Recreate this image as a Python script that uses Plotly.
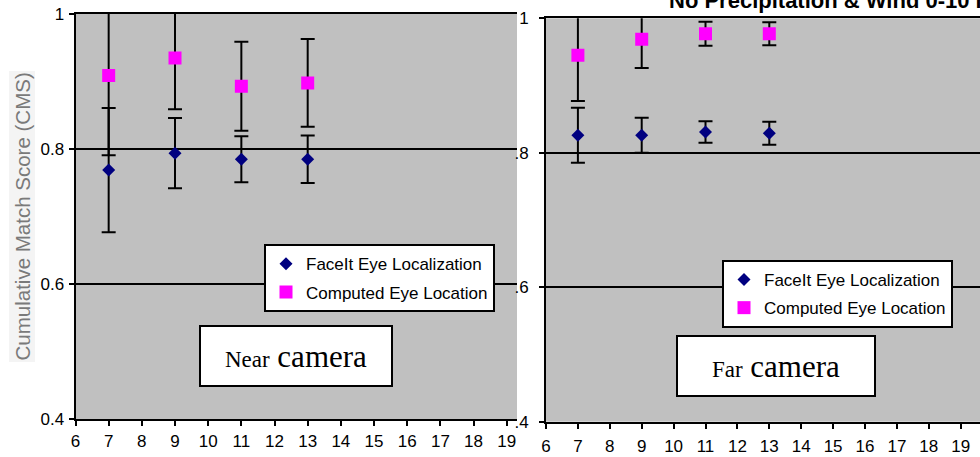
import plotly.graph_objects as go

# ---- data ----
window = [7, 9, 11, 13]
x_ticks = list(range(6, 20))
y_ticks = [0.4, 0.6, 0.8, 1.0]
y_ticktext_left = ["0.4", "0.6", "0.8", "1"]
y_ticktext_right = [".4", ".6", ".8", "1"]

near_faceit = [0.769, 0.794, 0.785, 0.785]
near_faceit_err = [0.092, 0.052, 0.034, 0.035]
near_computed = [0.909, 0.935, 0.893, 0.898]
near_computed_err = [0.118, 0.076, 0.066, 0.065]

far_faceit = [0.826, 0.826, 0.831, 0.829]
far_faceit_err = [0.041, 0.026, 0.016, 0.017]
far_computed = [0.945, 0.969, 0.977, 0.977]
far_computed_err = [0.068, 0.043, 0.018, 0.017]

name_faceit = "FaceIt Eye Localization"
name_computed = "Computed Eye Location"

W, H = 980, 457
NAVY = "#000080"
MAGENTA = "#FF00FF"
SANS = "Liberation Sans, Arial, sans-serif"
SERIF = "Liberation Serif, Times New Roman, serif"


def px_x(p):
    return p / W


def px_y(p):
    return 1 - p / H


fig = go.Figure()


def err(vals):
    return dict(type="data", array=vals, visible=True, color="black",
                thickness=2, width=7)


fig.add_trace(go.Scatter(
    x=window, y=near_faceit, mode="markers", name=name_faceit,
    marker=dict(symbol="diamond", size=10, color=NAVY),
    error_y=err(near_faceit_err), xaxis="x", yaxis="y",
    legend="legend", legendgroup="a"))
fig.add_trace(go.Scatter(
    x=window, y=near_computed, mode="markers", name=name_computed,
    marker=dict(symbol="square", size=13, color=MAGENTA),
    error_y=err(near_computed_err), xaxis="x", yaxis="y",
    legend="legend", legendgroup="b"))
fig.add_trace(go.Scatter(
    x=window, y=far_faceit, mode="markers", name=name_faceit,
    marker=dict(symbol="diamond", size=10, color=NAVY),
    error_y=err(far_faceit_err), xaxis="x2", yaxis="y2",
    legend="legend2", legendgroup="c"))
fig.add_trace(go.Scatter(
    x=window, y=far_computed, mode="markers", name=name_computed,
    marker=dict(symbol="square", size=13, color=MAGENTA),
    error_y=err(far_computed_err), xaxis="x2", yaxis="y2",
    legend="legend2", legendgroup="d"))

axis_common = dict(
    showline=True, linecolor="black", linewidth=2,
    ticks="outside", ticklen=5, tickwidth=2, tickcolor="black",
    tickfont=dict(family=SANS, size=17, color="black"),
    zeroline=False, automargin=False,
)

# mirror=True on x draws the top frame line (at y = 1)
xaxis_common = dict(axis_common, tickvals=x_ticks, showgrid=False,
                    mirror=True)
yaxis_common = dict(axis_common, tickvals=y_ticks, showgrid=True,
                    gridcolor="black", gridwidth=2)

legend_common = dict(
    bgcolor="white", bordercolor="black", borderwidth=2,
    font=dict(family=SANS, size=17, color="black"),
    tracegroupgap=3, xanchor="left", yanchor="top",
)

fig.update_layout(
    width=W, height=H,
    margin=dict(l=0, r=0, t=0, b=0, autoexpand=False),
    paper_bgcolor="white", plot_bgcolor="#C0C0C0",
    xaxis=dict(xaxis_common, domain=[px_x(75.5), px_x(517)],
               range=[6, 19.31], anchor="y", ticklabelstandoff=0),
    yaxis=dict(yaxis_common, domain=[px_y(419.3), px_y(14)],
               range=[0.4, 1.0], anchor="x",
               ticktext=y_ticktext_left, ticklabelstandoff=1),
    xaxis2=dict(xaxis_common, domain=[px_x(546), 1.0],
                range=[6, 19.605], anchor="y2", ticklabelstandoff=3),
    yaxis2=dict(yaxis_common, domain=[px_y(421.7), px_y(18.3)],
                range=[0.4, 1.0], anchor="x2",
                ticktext=y_ticktext_right, ticklabelstandoff=7),
    legend=dict(legend_common, x=px_x(264), y=px_y(244.3)),
    legend2=dict(legend_common, x=px_x(722), y=px_y(260)),
    showlegend=True,
)

# y-axis title (placed as annotation to match its position exactly)
fig.add_annotation(
    text="Cumulative Match Score (CMS)", textangle=-90,
    xref="paper", yref="paper", x=px_x(22.5), y=px_y(217),
    xanchor="center", yanchor="middle", showarrow=False,
    font=dict(family=SANS, size=20.5, color="#7a7a7a"),
    bgcolor="#f4f4f4", borderpad=1)

# cropped chart title at the top of the right panel
fig.add_annotation(
    text="<b>No Precipitation & Wind 0-10 mph</b>",
    xref="paper", yref="paper", x=px_x(667), y=px_y(0.3),
    xanchor="left", yanchor="middle", showarrow=False,
    font=dict(family=SANS, size=22, color="black"))

# panel labels
def panel_label(word, cx, cy, w, h):
    fig.add_annotation(
        text='<span style="font-size:23px">%s</span> camera' % word,
        xref="paper", yref="paper", x=px_x(cx), y=px_y(cy),
        xanchor="center", yanchor="middle", showarrow=False,
        width=w, height=h, align="center", valign="middle",
        font=dict(family=SERIF, size=31, color="black"),
        bgcolor="white", bordercolor="black", borderwidth=2, borderpad=0)


panel_label("Near", 295.7, 356, 190, 58)
panel_label("Far", 776, 366, 196, 58)

fig.write_html(
    "out.html",
    config={"displayModeBar": False},
    post_script="document.body.style.margin='0';"
                "document.body.style.overflow='hidden';")
